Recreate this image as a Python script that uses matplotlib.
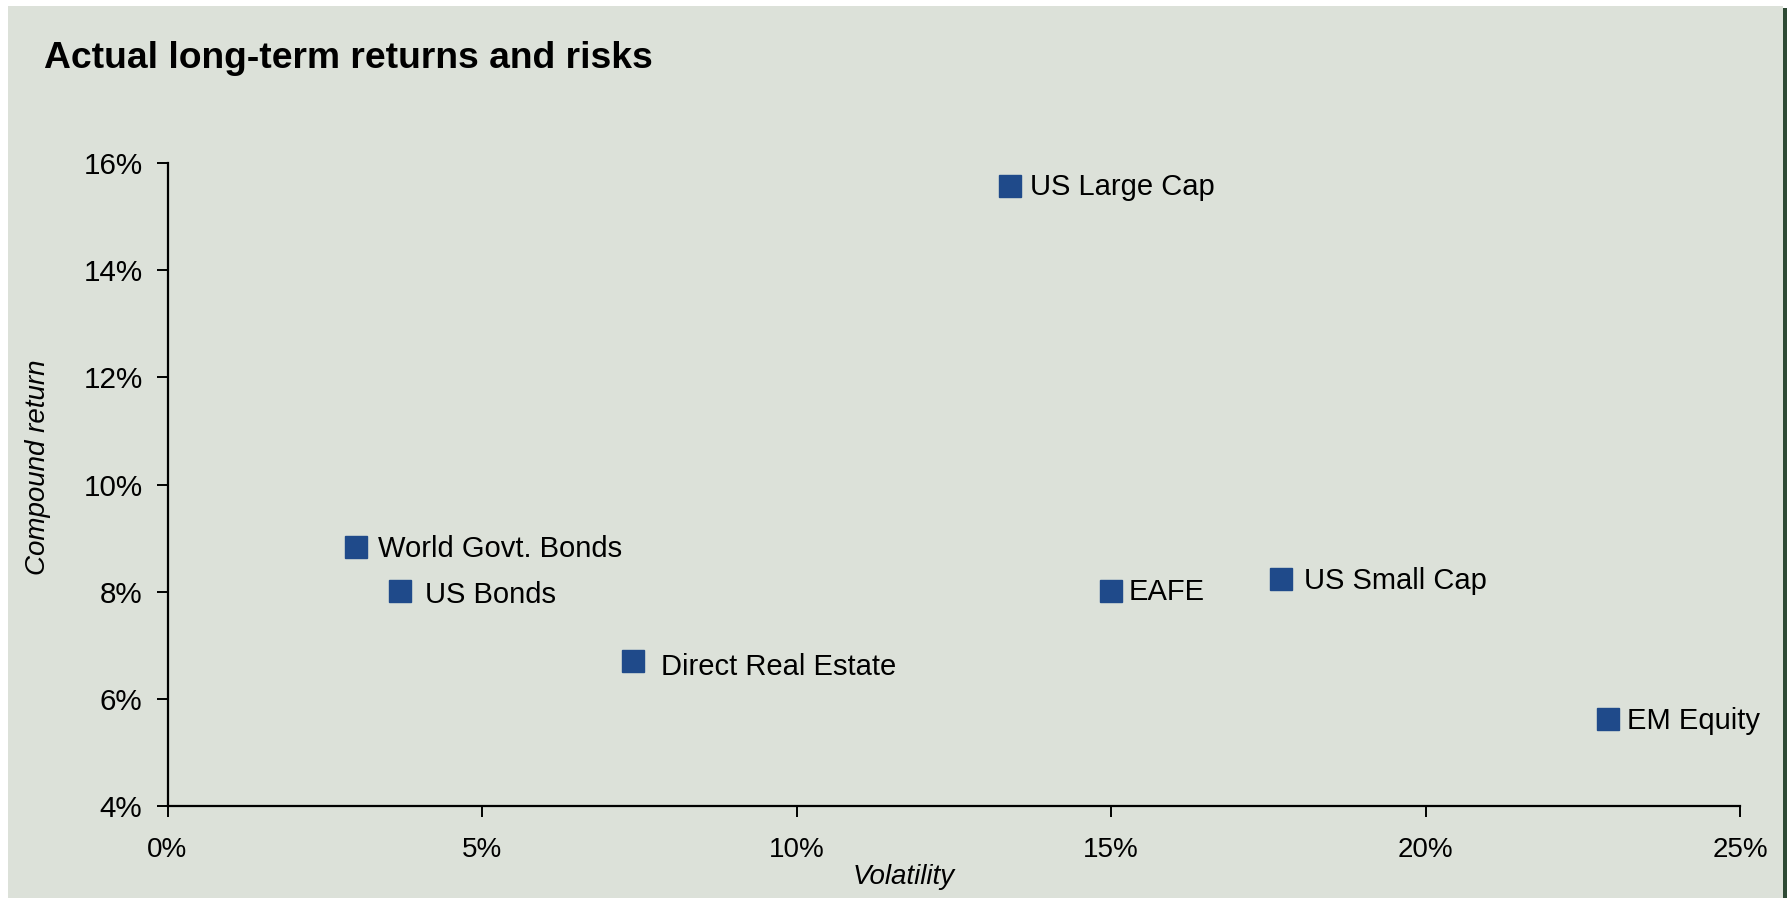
import matplotlib.pyplot as plt
from matplotlib.patches import Rectangle
from matplotlib.ticker import FuncFormatter

plt.rcParams['font.family'] = ['Liberation Sans', 'DejaVu Sans']

assets = ['US Large Cap', 'World Govt. Bonds', 'US Bonds', 'Direct Real Estate',
          'EAFE', 'US Small Cap', 'EM Equity']
volatility = [13.4, 3.0, 3.7, 7.4, 15.0, 17.7, 22.9]
compound_return = [15.57, 8.83, 8.02, 6.70, 8.02, 8.23, 5.62]

x_ticks = [0, 5, 10, 15, 20, 25]
y_ticks = [4, 6, 8, 10, 12, 14, 16]

# label offsets in points (dx, dy) from each marker
label_offsets = [(14, -1), (16, -1), (18, -3), (20, -4), (13, -1), (17, -1), (14, -1)]

bg = '#dce1d9'
marker_col = '#1f4a8a'

W, H = 1787, 898
fig = plt.figure(figsize=(W / 100, H / 100), dpi=100, facecolor='white')

# panel background and dark edge on the right
fig.patches.append(Rectangle((8 / W, 0), (1783 - 8) / W, 1 - 6 / H,
                             transform=fig.transFigure, facecolor=bg,
                             edgecolor='none', zorder=-2))
fig.patches.append(Rectangle((1783 / W, 0), 4 / W, 1 - 8 / H,
                             transform=fig.transFigure, facecolor='#2e4a34',
                             edgecolor='none', zorder=-2))

ax = fig.add_axes([167.5 / W, 1 - 806 / H, (1740 - 167.5) / W, (806 - 163) / H])
ax.set_facecolor(bg)

ax.plot(volatility, compound_return, linestyle='none', marker='s',
        markersize=16, color=marker_col, clip_on=False)

for name, x, y, (dx, dy) in zip(assets, volatility, compound_return, label_offsets):
    ax.annotate(name, (x, y), xytext=(dx, dy), textcoords='offset points',
                ha='left', va='center', fontsize=21, color='black')

ax.set_xlim(0, 25)
ax.set_ylim(4, 16)
ax.set_xticks(x_ticks)
ax.set_yticks(y_ticks)
pct = FuncFormatter(lambda v, _: f'{v:.0f}%')
ax.xaxis.set_major_formatter(pct)
ax.yaxis.set_major_formatter(pct)

for side in ('top', 'right'):
    ax.spines[side].set_visible(False)
for side in ('left', 'bottom'):
    ax.spines[side].set_linewidth(1.6)
    ax.spines[side].set_color('black')

ax.tick_params(axis='x', length=8, width=1.4, pad=14, labelsize=20)
ax.tick_params(axis='y', length=8, width=1.4, pad=10, labelsize=21.3)

fig.text(44 / W, 1 - 59 / H, 'Actual long-term returns and risks',
         fontsize=26.8, fontweight='bold', ha='left', va='center')
fig.text(38 / W, 1 - 467 / H, 'Compound return', fontsize=20, style='italic',
         rotation=90, ha='center', va='center')
fig.text(904 / W, 1 - 877 / H, 'Volatility', fontsize=20, style='italic',
         ha='center', va='center')

fig.savefig('out.png', dpi=100, facecolor=fig.get_facecolor())
